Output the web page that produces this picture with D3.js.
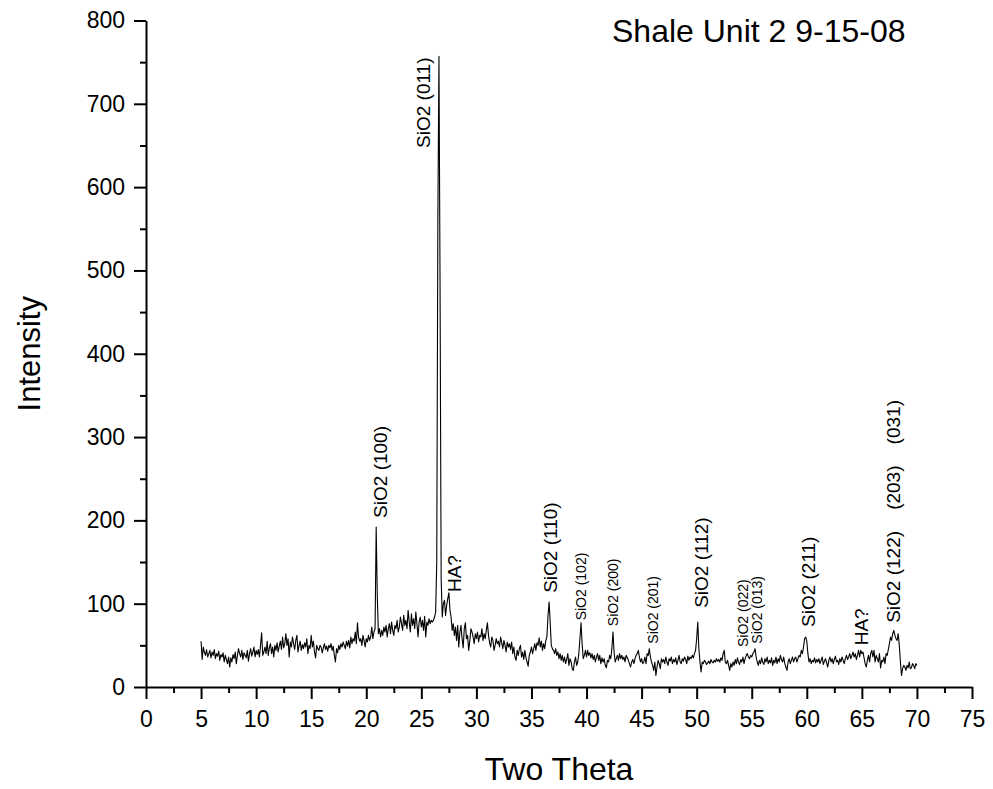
<!DOCTYPE html>
<html>
<head>
<meta charset="utf-8">
<script src="https://cdn.jsdelivr.net/npm/d3@7"></script>
<style>
  body { margin: 0; background: #fff; }
  text { font-family: Arial, "Liberation Sans", sans-serif; fill: #000; }
</style>
</head>
<body>
<svg id="chart" width="993" height="789"></svg>
<script>
// XRD scan: Two Theta from 5.0 to 70.0 in 0.1 degree steps
const scanStart = 5.0;
const scanStep = 0.1;
const intensity = [
  55,33,48,42,38,45,36,40,44,35,
  42,38,45,34,40,37,43,32,39,36,
  41,30,38,33,28,36,24,35,30,39,
  34,42,28,38,46,40,36,44,33,41,
  38,35,44,31,40,46,37,42,48,36,
  44,39,45,36,50,65,38,42,48,40,
  55,38,47,52,40,48,36,50,44,53,
  42,49,55,45,60,47,52,64,50,58,
  36,54,48,60,52,45,56,62,42,50,
  55,44,51,46,53,48,58,40,50,46,
  62,48,55,42,35,50,46,44,50,48,
  41,47,52,45,49,43,50,47,52,44,
  49,38,30,46,41,50,45,52,48,54,
  50,46,55,49,56,47,60,52,58,55,
  66,52,77,60,55,58,50,62,56,48,
  58,54,62,56,60,72,58,66,70,192,
  110,64,70,60,68,62,72,66,74,60,
  70,76,64,78,68,62,74,70,80,66,
  72,84,76,68,86,74,80,70,92,78,
  66,88,74,82,70,90,76,60,78,84,
  72,80,68,85,60,78,74,82,76,80,
  78,80,84,90,150,560,757,480,130,84,
  100,104,86,98,106,113,92,84,68,76,
  62,72,56,74,48,66,74,58,47,70,
  77,58,62,44,55,70,66,60,52,64,
  58,66,54,62,60,70,56,64,58,68,
  77,62,53,48,60,56,44,50,58,52,
  55,48,60,53,46,56,50,42,54,48,
  52,45,54,40,48,36,32,44,38,46,
  50,36,42,33,44,35,30,25,38,42,
  48,40,46,52,44,53,50,59,48,55,
  44,52,46,56,60,85,102,78,50,46,
  44,40,46,38,42,34,40,32,38,30,
  36,28,33,40,26,34,30,22,20,30,
  36,26,30,40,58,77,52,34,38,44,
  36,44,38,41,35,40,33,38,30,36,
  40,32,38,28,35,30,34,26,23,32,
  30,38,34,46,66,42,30,34,38,32,
  40,34,38,33,36,30,38,35,32,28,
  24,30,33,28,34,38,40,44,36,30,
  34,28,30,36,28,40,38,46,36,30,
  26,20,30,14,24,32,28,22,34,30,
  33,28,36,30,26,34,31,36,28,33,
  30,35,27,32,38,30,28,34,31,36,
  33,28,37,32,36,34,38,35,40,44,
  58,78,46,30,18,30,28,32,30,27,
  29,31,28,33,30,29,32,30,34,31,
  33,30,35,32,40,44,30,28,32,26,
  20,28,24,30,26,33,28,35,30,27,
  33,30,36,28,34,38,40,36,34,38,
  36,40,42,46,36,30,26,32,28,35,
  30,27,34,30,36,28,32,29,35,26,
  32,29,36,28,34,30,38,33,30,36,
  28,24,20,30,34,28,32,36,30,34,
  36,30,34,38,36,44,40,48,58,60,
  55,40,30,34,28,32,30,35,29,33,
  30,34,28,32,36,27,31,34,29,24,
  32,36,30,34,28,33,37,30,32,27,
  34,30,36,32,28,34,38,33,36,40,
  34,38,42,36,40,33,38,44,36,44,
  40,42,35,28,24,32,38,30,40,44,
  36,44,30,38,34,30,40,23,32,30,
  36,28,40,38,45,52,60,56,64,68,
  62,58,56,64,50,30,14,22,26,24,
  20,26,23,30,22,23,28,26,22,28,
  26
];

// Axis ticks
const xMajorTicks = [0,5,10,15,20,25,30,35,40,45,50,55,60,65,70,75];
const xMinorTicks = [2.5,7.5,12.5,17.5,22.5,27.5,32.5,37.5,42.5,47.5,52.5,57.5,62.5,67.5,72.5];
const yMajorTicks = [0,100,200,300,400,500,600,700,800];
const yMinorTicks = [50,150,250,350,450,550,650,750];

// Peak assignments: label text, Two Theta of label centre, intensity where label starts, font size
const peakText  = ["SiO2 (100)", "SiO2 (011)", "HA?", "SiO2 (110)", "SiO2 (102)", "SiO2 (200)",
                   "SiO2 (201)", "SiO2 (112)", "SiO2 (022)", "SiO2 (013)", "SiO2 (211)", "HA?",
                   "SiO2 (122)    (203)    (031)"];
const peakTheta = [21.25, 25.2, 28.0, 36.75, 39.5, 42.4, 46.0, 50.4, 54.2, 55.45, 60.1, 64.95, 67.9];
const peakBase  = [203, 647, 114, 113, 80, 73, 52, 95, 48, 52, 72, 50, 77];
const peakSize  = [19, 19, 19, 19, 14, 14, 14, 19, 14, 14, 19, 19, 19];

const chartTitle = "Shale Unit 2 9-15-08";
const xTitle = "Two Theta";
const yTitle = "Intensity";

const svg = d3.select("#chart");

const x = d3.scaleLinear().domain([0, 75]).range([146, 972]);
const y = d3.scaleLinear().domain([0, 800]).range([687, 20.5]);

const points = intensity.map((v, i) => ({ t: scanStart + i * scanStep, v }));

// Axes
const xAxis = svg.append("g").attr("transform", `translate(0,${y(0)})`)
  .call(d3.axisBottom(x).tickValues(xMajorTicks).tickSize(12).tickSizeOuter(0).tickPadding(12).tickFormat(d3.format("d")));
const xAxisMinor = svg.append("g").attr("transform", `translate(0,${y(0)})`)
  .call(d3.axisBottom(x).tickValues(xMinorTicks).tickSize(6).tickSizeOuter(0).tickFormat(""));
const yAxis = svg.append("g").attr("transform", `translate(${x(0)},0)`)
  .call(d3.axisLeft(y).tickValues(yMajorTicks).tickSize(12).tickSizeOuter(0).tickPadding(9).tickFormat(d3.format("d")));
const yAxisMinor = svg.append("g").attr("transform", `translate(${x(0)},0)`)
  .call(d3.axisLeft(y).tickValues(yMinorTicks).tickSize(6).tickSizeOuter(0).tickFormat(""));

[xAxis, xAxisMinor, yAxis, yAxisMinor].forEach(g => {
  g.selectAll("path.domain").attr("stroke", "#000").attr("stroke-width", 2);
  g.selectAll(".tick line").attr("stroke", "#000").attr("stroke-width", 2);
  g.selectAll(".tick text").attr("font-size", 23).attr("fill", "#000");
});
xAxisMinor.select("path.domain").remove();
yAxisMinor.select("path.domain").remove();

// Diffraction pattern
svg.append("path")
  .datum(points)
  .attr("fill", "none")
  .attr("stroke", "#000")
  .attr("stroke-width", 1.1)
  .attr("stroke-linejoin", "round")
  .attr("d", d3.line().x(d => x(d.t)).y(d => y(d.v)));

// Peak labels, written vertically
peakText.forEach((txt, i) => {
  svg.append("text")
    .attr("transform", `translate(${x(peakTheta[i])},${y(peakBase[i])}) rotate(-90)`)
    .attr("dy", "0.35em")
    .attr("font-size", peakSize[i])
    .style("white-space", "pre")
    .text(txt);
});

// Titles
svg.append("text")
  .attr("x", 612).attr("y", 42)
  .attr("font-size", 32)
  .text(chartTitle);

svg.append("text")
  .attr("x", (x(0) + x(75)) / 2).attr("y", 780)
  .attr("text-anchor", "middle")
  .attr("font-size", 32)
  .text(xTitle);

svg.append("text")
  .attr("transform", `translate(40,${(y(0) + y(800)) / 2}) rotate(-90)`)
  .attr("text-anchor", "middle")
  .attr("font-size", 31)
  .text(yTitle);
</script>
</body>
</html>
